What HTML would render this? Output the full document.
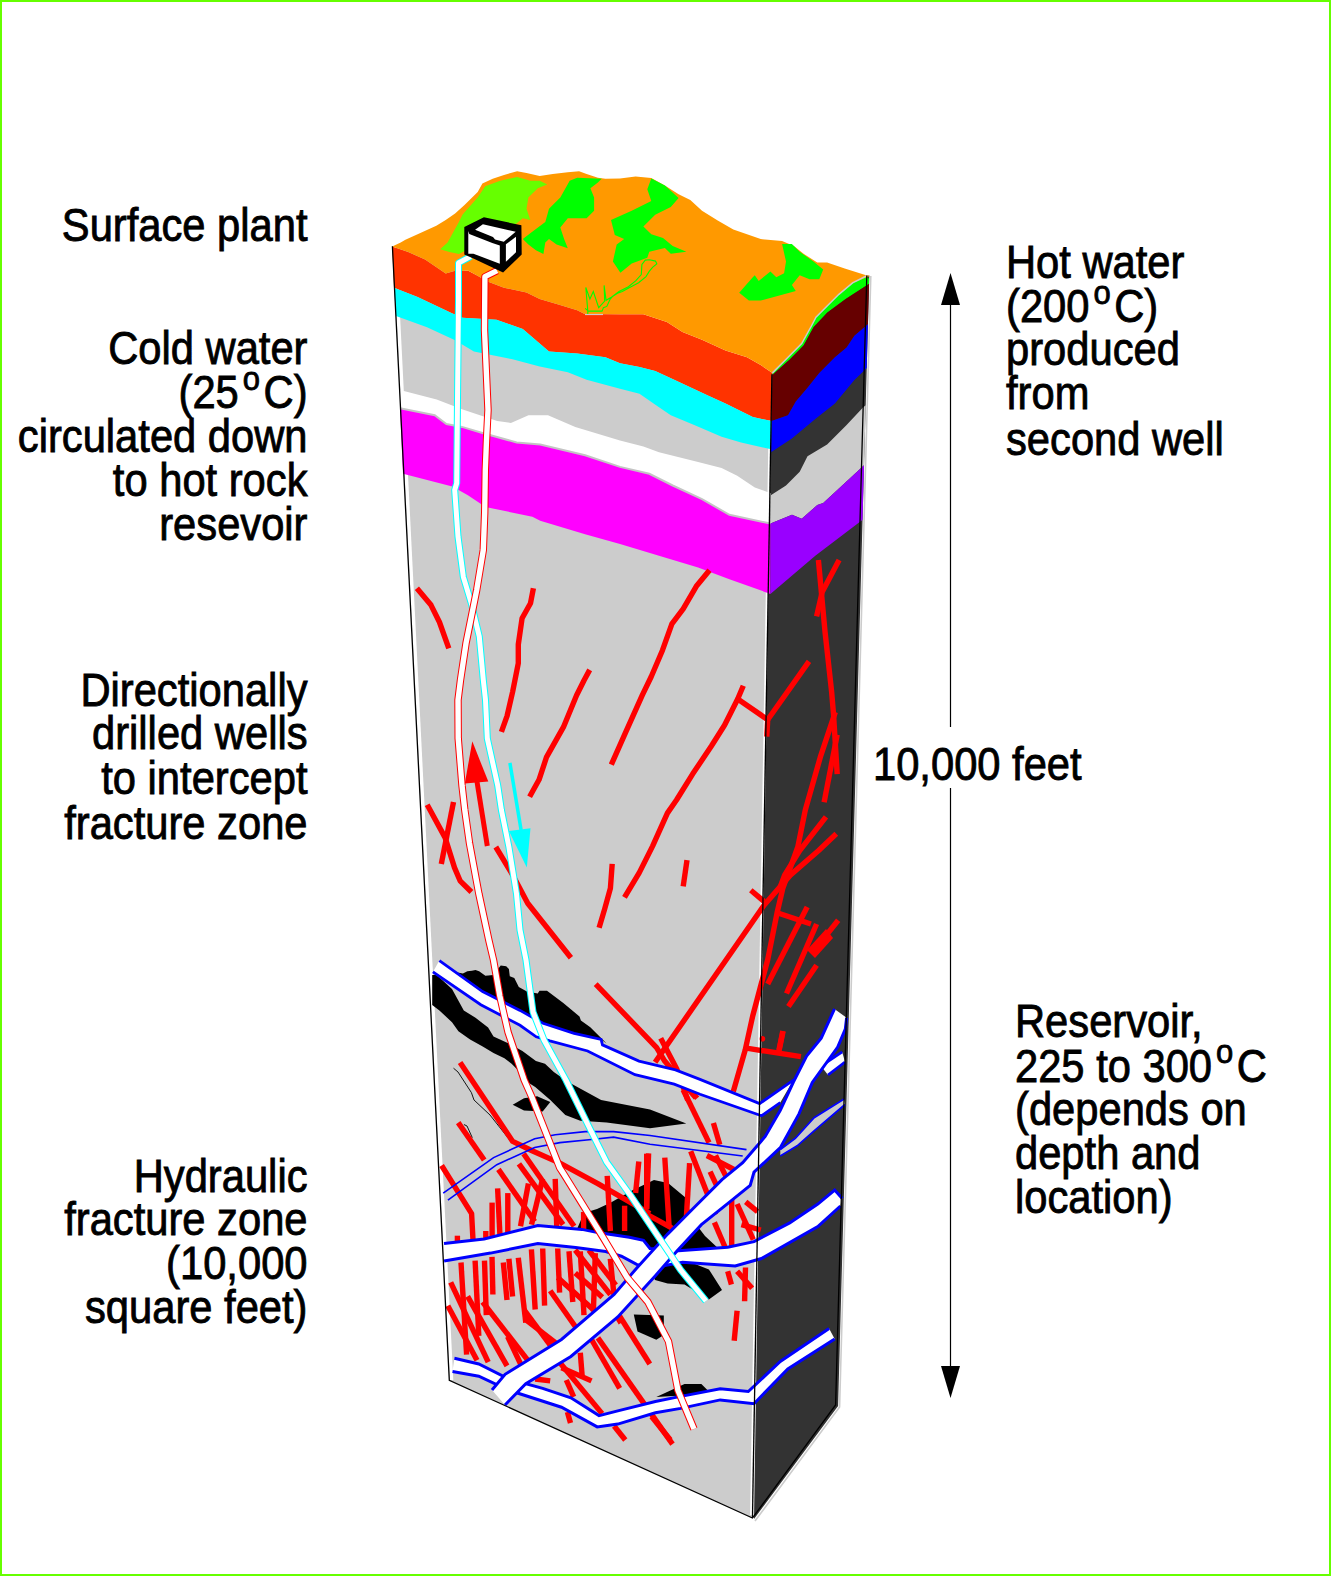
<!DOCTYPE html>
<html><head><meta charset="utf-8">
<style>
html,body{margin:0;padding:0;background:#fff;}
body{width:1331px;height:1576px;overflow:hidden;position:relative;}
svg{position:absolute;left:0;top:0;}
.t{font-family:"Liberation Sans",sans-serif;font-size:41.7px;fill:#000;stroke:#000;stroke-width:0.8;}
</style></head>
<body>
<svg width="1331" height="1576" viewBox="0 0 1331 1576">
<rect x="1" y="1" width="1329" height="1574" fill="#fff" stroke="#66ff00" stroke-width="2"/>

<!-- block faces -->
<g id="block">
<polygon points="392.4,246.3 771.9,374.2 752.5,1518.0 449.3,1380.3" fill="#cccccc"/>
<line x1="394.9" y1="247" x2="451.6" y2="1380" stroke="#fff" stroke-width="3.4"/>
<line x1="770.3" y1="376" x2="750.9" y2="1515" stroke="#fff" stroke-width="1.6"/>
<defs><clipPath id="rclip"><polygon points="771.9,374.2 784.1,361.2 801.7,343.6 811.4,326.0 816.0,317.1 827.4,305.7 838.9,294.3 852.6,282.9 866.3,276.0 869.3,275.4 838.1,1406.0 754.0,1519.0"/></clipPath></defs>
<polygon points="771.9,374.2 784.1,361.2 801.7,343.6 811.4,326.0 816.0,317.1 827.4,305.7 838.9,294.3 852.6,282.9 866.3,276.0 869.3,275.4 838.1,1406.0 754.0,1519.0" fill="#333333"/>
<polygon points="392.2,246.4 408.2,252.0 425.1,259.5 445.7,273.6 455.1,270.8 468.3,270.8 488.9,282.1 504.0,287.7 526.5,292.4 539.7,299.0 558.4,304.6 577.2,310.3 584.7,314.0 620.0,314.3 643.4,314.3 666.9,322.1 682.5,331.9 702.0,339.7 725.5,350.5 747.0,357.3 760.7,365.1 772.4,372.9 771.5,421.0 752.8,417.1 725.5,403.4 707.9,395.6 674.7,380.0 655.2,371.0 639.5,367.1 620.0,363.2 605.4,357.2 577.2,353.5 549.0,351.6 522.8,329.0 496.5,319.7 462.6,317.8 451.4,313.1 417.6,297.1 394.0,287.7" fill="#ff3300" />
<polygon points="394.0,287.7 417.6,297.1 451.4,313.1 462.6,317.8 496.5,319.7 522.8,329.0 549.0,351.6 577.2,353.5 605.4,357.2 620.0,363.2 639.5,367.1 655.2,371.0 674.7,380.0 707.9,395.6 725.5,403.4 752.8,417.1 771.5,421.0 771.0,449.3 741.1,442.5 721.6,436.7 694.2,424.9 670.8,415.2 659.0,407.3 639.5,393.7 620.0,388.8 586.6,379.8 567.8,372.2 539.7,366.6 511.5,359.1 473.9,351.6 455.1,340.3 427.0,327.2 396.0,315.9" fill="#00ffff" />
<polygon points="399.0,389.8 436.7,399.5 462.0,409.3 497.2,421.0 510.9,423.0 528.5,415.2 548.0,415.2 575.3,426.9 620.0,440.6 643.4,446.4 659.0,452.3 698.1,462.0 721.6,467.9 737.2,475.7 754.8,487.4 770.8,493.3 770.5,523.6 729.4,514.8 702.0,499.2 672.7,485.5 649.3,473.8 620.0,466.9 585.1,455.2 540.2,444.5 516.7,442.5 481.6,432.7 462.0,426.9 446.4,424.0 434.7,415.2 400.0,408.3" fill="#ffffff" />
<polygon points="400.0,408.3 434.7,415.2 446.4,424.0 462.0,426.9 481.6,432.7 516.7,442.5 540.2,444.5 585.1,455.2 620.0,466.9 649.3,473.8 672.7,485.5 702.0,499.2 729.4,514.8 770.5,523.6 770.4,593.9 729.4,579.3 698.1,567.5 659.0,555.8 620.0,544.1 585.1,534.3 540.2,520.7 532.4,516.7 485.5,507.0 467.9,495.3 452.3,486.5 403.0,473.8" fill="#ff00ff" />
<polyline points="400.0,408.3 434.7,415.2 446.4,424.0 462.0,426.9 481.6,432.7 516.7,442.5 540.2,444.5 585.1,455.2 620.0,466.9 649.3,473.8 672.7,485.5 702.0,499.2 729.4,514.8 770.5,523.6" fill="none" stroke="#c4c4c4" stroke-width="2"/>
<g clip-path="url(#rclip)"><polygon points="772.4,372.9 784.1,361.2 801.7,343.6 811.4,326.0 816.0,317.1 827.4,305.7 838.9,294.3 852.6,282.9 866.3,276.0 872.0,282.0 845.7,298.9 827.4,312.6 813.7,327.0 803.6,345.6 790.0,359.3 772.4,374.9" fill="#00ff00" />
<polygon points="772.4,374.9 790.0,359.3 803.6,345.6 813.7,327.0 827.4,312.6 845.7,298.9 872.0,282.0 873.0,320.0 854.4,335.8 846.6,347.5 834.9,357.3 819.3,372.9 807.5,387.8 795.8,401.5 788.0,415.2 771.5,421.0" fill="#660000" />
<polygon points="771.5,421.0 788.0,415.2 795.8,401.5 807.5,387.8 819.3,372.9 834.9,357.3 846.6,347.5 854.4,335.8 873.0,320.0 873.0,362.0 854.4,380.0 834.9,403.4 815.3,419.1 791.9,438.6 771.0,452.3" fill="#0000ff" />
<polygon points="770.8,495.3 786.0,485.5 799.7,471.8 807.5,456.2 827.1,444.5 846.6,424.9 863.2,407.3 873.0,400.0 873.0,457.0 823.2,503.1 817.3,505.0 801.7,518.7 792.0,514.8 770.5,523.6" fill="#cccccc" />
<polygon points="770.5,523.6 792.0,514.8 801.7,518.7 817.3,505.0 823.2,503.1 873.0,457.0 873.0,512.0 815.3,555.8 770.4,593.9" fill="#9900ff" />
</g><polygon points="392.2,246.4 400.7,242.6 405.4,239.8 417.6,234.2 436.3,225.7 445.7,220.1 455.1,213.5 464.5,205.1 477.7,191.9 482.4,183.5 492.7,178.8 504.0,175.0 517.1,171.3 526.5,173.1 539.7,176.0 552.8,174.1 567.8,172.2 579.1,171.3 586.6,174.1 597.9,177.8 605.4,178.8 620.0,178.6 635.6,176.6 651.3,178.0 664.9,185.4 678.6,194.2 690.3,200.0 702.0,210.8 717.7,220.6 733.3,229.4 760.7,239.1 782.1,241.1 793.9,246.0 803.6,253.8 817.3,262.6 827.1,262.6 844.7,268.4 866.1,275.3 870.0,276.0 852.6,282.9 838.9,294.3 827.4,305.7 816.0,317.1 811.4,326.0 801.7,343.6 784.1,361.2 772.4,372.9 760.7,365.1 747.0,357.3 725.5,350.5 702.0,339.7 682.5,331.9 666.9,322.1 643.4,314.3 620.0,314.3 584.7,314.0 577.2,310.3 558.4,304.6 539.7,299.0 526.5,292.4 504.0,287.7 488.9,282.1 468.3,270.8 455.1,270.8 445.7,273.6 425.1,259.5 408.2,252.0 392.2,246.4" fill="#ff9900"/>
<polyline points="772.4,372.9 784.1,361.2 801.7,343.6 811.4,326.0 816.0,317.1 827.4,305.7 838.9,294.3 852.6,282.9 866.3,276.0" fill="none" stroke="#cccccc" stroke-width="1.5"/>
<polygon points="440.1,249.2 447.6,242.6 458.9,222.0 462.6,214.5 477.7,197.6 485.2,186.3 500.2,180.7 517.1,176.9 530.3,180.7 539.7,180.7 547.2,184.4 537.8,188.2 528.4,197.6 526.5,208.8 530.3,220.1 522.8,218.2 511.5,227.6 502.1,238.9 492.7,242.6 481.4,250.2 470.2,248.3 458.9,253.9 449.5,252.0" fill="#66ff00"/>
<polygon points="522.8,238.9 530.3,233.3 545.3,222.0 549.0,208.8 560.3,197.6 569.7,180.7 577.2,177.8 601.6,178.8 597.9,182.5 590.4,188.2 594.1,197.6 594.1,210.7 586.6,218.2 567.8,218.2 560.3,227.6 564.1,238.9 567.8,248.3 556.6,244.5 549.0,238.9 545.3,242.6 543.4,253.9 535.9,250.2 528.4,244.5" fill="#00ff00"/>
<polygon points="611.0,220.1 631.7,210.8 651.3,201.0 647.3,189.3 651.3,178.6 664.9,185.4 678.6,198.1 670.8,206.9 655.2,214.7 643.4,226.4 651.3,234.2 663.0,238.1 672.7,246.0 686.4,251.8 670.8,253.8 664.9,247.9 649.3,251.8 647.3,257.7 631.7,263.5 620.4,272.7 612.9,261.4 616.7,244.5 624.2,238.9 614.8,235.1" fill="#00ff00"/>
<polygon points="739.2,292.8 752.8,277.2 754.8,275.3 758.7,281.1 770.4,271.4 776.3,277.2 784.1,273.3 786.0,261.6 782.1,244.0 791.9,244.0 799.7,251.8 813.4,261.6 823.2,269.4 819.3,279.2 809.5,279.2 799.7,275.3 791.9,285.0 795.8,290.9 782.1,294.8 760.7,300.6 748.9,300.6" fill="#00ff00"/>
<polyline points="463.9,1124.5 467.0,1126.0 472.3,1137.7" fill="none" stroke="#000" stroke-width="0.9"/>
<polyline points="453.5,1068.2 458.0,1072.0 471.4,1092.6 474.0,1100.0 490.0,1115.0 510.8,1141.4" fill="none" stroke="#000" stroke-width="0.9"/>
<line x1="585" y1="314.5" x2="603" y2="314.5" stroke="#cccccc" stroke-width="1.2"/>
<polyline points="585.1,308.4 588.5,311.1 602.0,311.1 603.4,307.7 606.8,306.4 610.2,299.0 612.9,296.2 618.3,292.9 622.3,291.5 632.5,286.1 638.6,282.7 646.0,276.6 649.4,271.2 652.8,267.2 656.8,263.8 655.5,261.1 649.4,259.7 645.3,260.1 641.9,264.5 641.3,274.6 635.9,280.7 628.4,286.8 619.0,291.5 610.8,297.6 606.1,300.3 604.1,285.4 604.7,301.0 598.7,307.7 593.3,291.5 589.9,299.0 585.8,287.5 587.8,311.1 587.8,314.0" fill="none" stroke="#00ff00" stroke-width="1.1"/>
<polygon points="455.0,972.0 462.9,973.5 467.4,971.3 471.9,970.8 475.5,969.9 479.1,971.3 485.4,975.8 493.5,974.9 500.7,965.4 506.2,966.3 508.9,969.0 509.8,976.2 514.3,978.0 518.8,987.0 526.9,991.6 537.7,993.4 539.5,990.7 547.0,990.8 563.3,1003.0 579.5,1016.5 580.9,1020.6 590.3,1027.3 606.6,1043.6 601.1,1039.5 574.1,1033.4 545.0,1024.9 520.0,1010.4 482.6,991.6" fill="#000"/>
<polygon points="432.2,974.9 436.7,974.9 452.0,988.9 463.8,1010.5 475.5,1017.7 488.1,1027.6 493.5,1036.6 509.8,1043.9 522.4,1051.1 535.9,1061.0 545.0,1063.7 553.8,1072.0 567.3,1081.4 601.1,1100.0 650.0,1109.5 686.3,1123.5 650.0,1128.3 606.6,1122.6 580.3,1120.8 565.3,1115.1 550.3,1100.1 535.2,1087.0 524.2,1080.0 518.8,1070.9 511.6,1063.7 504.4,1058.3 493.5,1052.9 482.7,1046.6 470.1,1039.4 458.4,1031.2 452.0,1022.2 439.4,1010.5 432.2,1005.1" fill="#000"/>
<polygon points="512.7,1104.8 524.0,1098.2 537.1,1096.3 550.3,1102.0 542.7,1111.4 524.0,1110.4" fill="#000"/>
<polygon points="576.6,1230.0 584.0,1213.0 597.0,1209.0 610.0,1203.0 633.0,1190.0 654.0,1180.0 668.0,1183.0 686.0,1198.0 692.0,1219.0 705.0,1236.0 720.0,1250.0 650.0,1250.0 600.0,1240.0" fill="#000"/>
<polygon points="650.0,1268.0 690.0,1262.0 708.9,1269.4 722.0,1290.0 708.9,1299.4 684.5,1284.4 667.6,1283.5 655.0,1280.0" fill="#000"/>
<polygon points="633.8,1314.5 663.8,1315.4 663.8,1335.1 656.3,1339.8 637.5,1331.4" fill="#000"/>
<polygon points="656.3,1397.1 684.5,1384.0 701.4,1384.0 708.9,1391.5 690.0,1395.0" fill="#000"/>
<polyline points="416.9,588.2 431.0,605.1 439.4,622.0 448.8,648.3" fill="none" stroke="#ff0000" stroke-width="5.4" stroke-linejoin="round" stroke-linecap="butt"/>
<polyline points="533.4,588.2 530.5,603.2 522.1,618.2 518.3,644.5 518.3,663.3 512.7,691.5 507.1,715.9 501.4,731.9" fill="none" stroke="#ff0000" stroke-width="5.4" stroke-linejoin="round" stroke-linecap="butt"/>
<polyline points="589.7,669.9 584.1,680.2 576.6,695.2 563.4,727.2 546.5,757.2 539.0,779.8 529.6,796.7" fill="none" stroke="#ff0000" stroke-width="5.4" stroke-linejoin="round" stroke-linecap="butt"/>
<polyline points="709.5,570.3 696.3,586.3 683.2,608.8 671.9,623.9 662.5,650.2 651.3,676.5 642.3,695.2 625.4,732.8 611.3,764.7" fill="none" stroke="#ff0000" stroke-width="5.4" stroke-linejoin="round" stroke-linecap="butt"/>
<polyline points="743.3,685.8 737.7,699.0 724.5,725.3 711.4,746.0 692.6,774.1 676.5,800.0 667.4,813.1 652.6,846.1 639.3,872.6 624.5,897.4" fill="none" stroke="#ff0000" stroke-width="5.4" stroke-linejoin="round" stroke-linecap="butt"/>
<polyline points="737.7,699.0 767.7,719.7 809.0,661.4" fill="none" stroke="#ff0000" stroke-width="5.4" stroke-linejoin="round" stroke-linecap="butt"/>
<polyline points="767.7,719.7 766.8,736.6" fill="none" stroke="#ff0000" stroke-width="5.4" stroke-linejoin="round" stroke-linecap="butt"/>
<polyline points="687.0,860.1 683.2,886.4" fill="none" stroke="#ff0000" stroke-width="5.4" stroke-linejoin="round" stroke-linecap="butt"/>
<polyline points="427.2,804.7 445.1,837.6 454.5,867.6 460.1,880.8 471.4,892.0" fill="none" stroke="#ff0000" stroke-width="5.4" stroke-linejoin="round" stroke-linecap="butt"/>
<polyline points="453.5,801.9 441.3,863.9" fill="none" stroke="#ff0000" stroke-width="5.4" stroke-linejoin="round" stroke-linecap="butt"/>
<polyline points="495.8,847.0 512.7,875.1 527.7,903.3 570.9,957.8" fill="none" stroke="#ff0000" stroke-width="5.4" stroke-linejoin="round" stroke-linecap="butt"/>
<polyline points="612.2,863.9 610.4,888.3 604.7,908.9 599.1,927.7" fill="none" stroke="#ff0000" stroke-width="5.4" stroke-linejoin="round" stroke-linecap="butt"/>
<polyline points="595.7,984.1 656.6,1047.6 664.7,1061.1 695.8,1097.7" fill="none" stroke="#ff0000" stroke-width="5.4" stroke-linejoin="round" stroke-linecap="butt"/>
<polyline points="836.3,833.8 818.4,850.7 790.3,875.1 764.0,905.2 655.1,1062.2" fill="none" stroke="#ff0000" stroke-width="5.4" stroke-linejoin="round" stroke-linecap="butt"/>
<polyline points="750.8,890.2 764.0,901.4" fill="none" stroke="#ff0000" stroke-width="5.4" stroke-linejoin="round" stroke-linecap="butt"/>
<polyline points="660.7,1038.2 676.9,1069.3 683.6,1088.2 687.7,1100.0" fill="none" stroke="#ff0000" stroke-width="5.4" stroke-linejoin="round" stroke-linecap="butt"/>
<polyline points="818.4,560.0 825.0,631.4 831.6,691.5 833.5,714.0 837.2,774.1" fill="none" stroke="#ff0000" stroke-width="5.4" stroke-linejoin="round" stroke-linecap="butt"/>
<polyline points="839.1,560.0 822.2,591.9 816.6,616.3" fill="none" stroke="#ff0000" stroke-width="5.4" stroke-linejoin="round" stroke-linecap="butt"/>
<polyline points="835.3,712.1 820.3,757.2 805.3,810.0 797.8,847.0 782.8,888.3 777.1,912.7 767.7,959.7 760.2,987.8 752.7,1016.0 745.2,1050.0 733.3,1091.4" fill="none" stroke="#ff0000" stroke-width="5.4" stroke-linejoin="round" stroke-linecap="butt"/>
<polyline points="837.2,734.7 824.1,802.3" fill="none" stroke="#ff0000" stroke-width="5.4" stroke-linejoin="round" stroke-linecap="butt"/>
<polyline points="826.0,816.9 799.7,850.7 784.6,875.1 779.0,890.2" fill="none" stroke="#ff0000" stroke-width="5.4" stroke-linejoin="round" stroke-linecap="butt"/>
<polyline points="807.2,907.1 767.7,984.1" fill="none" stroke="#ff0000" stroke-width="5.4" stroke-linejoin="round" stroke-linecap="butt"/>
<polyline points="777.1,912.7 810.9,924.0" fill="none" stroke="#ff0000" stroke-width="5.4" stroke-linejoin="round" stroke-linecap="butt"/>
<polyline points="816.6,924.0 786.5,993.5" fill="none" stroke="#ff0000" stroke-width="5.4" stroke-linejoin="round" stroke-linecap="butt"/>
<polyline points="838.2,920.2 812.8,952.1" fill="none" stroke="#ff0000" stroke-width="5.4" stroke-linejoin="round" stroke-linecap="butt"/>
<polyline points="816.6,965.3 788.4,1006.6" fill="none" stroke="#ff0000" stroke-width="5.4" stroke-linejoin="round" stroke-linecap="butt"/>
<polyline points="782.8,1031.0 779.0,1050.0" fill="none" stroke="#ff0000" stroke-width="5.4" stroke-linejoin="round" stroke-linecap="butt"/>
<polyline points="746.5,1048.2 800.9,1056.6" fill="none" stroke="#ff0000" stroke-width="5.4" stroke-linejoin="round" stroke-linecap="butt"/>
<polyline points="783.1,1031.3 778.4,1053.8" fill="none" stroke="#ff0000" stroke-width="5.4" stroke-linejoin="round" stroke-linecap="butt"/>
<polyline points="460.1,1062.5 512.7,1141.4 531.5,1150.5 559.9,1163.1 597.8,1183.6 650.0,1213.6" fill="none" stroke="#ff0000" stroke-width="5.4" stroke-linejoin="round" stroke-linecap="butt"/>
<polyline points="458.2,1122.6 484.2,1160.0" fill="none" stroke="#ff0000" stroke-width="5.4" stroke-linejoin="round" stroke-linecap="butt"/>
<polyline points="441.6,1165.5 471.6,1213.6 473.1,1242.0" fill="none" stroke="#ff0000" stroke-width="5.4" stroke-linejoin="round" stroke-linecap="butt"/>
<polyline points="498.4,1169.4 534.7,1221.5" fill="none" stroke="#ff0000" stroke-width="5.4" stroke-linejoin="round" stroke-linecap="butt"/>
<polyline points="518.9,1163.9 563.1,1224.7" fill="none" stroke="#ff0000" stroke-width="5.4" stroke-linejoin="round" stroke-linecap="butt"/>
<polyline points="523.6,1153.7 574.1,1226.2" fill="none" stroke="#ff0000" stroke-width="5.4" stroke-linejoin="round" stroke-linecap="butt"/>
<polyline points="457.4,1235.7 457.4,1242.0" fill="none" stroke="#ff0000" stroke-width="5.4" stroke-linejoin="round" stroke-linecap="butt"/>
<polyline points="485.8,1231.0 485.8,1240.0" fill="none" stroke="#ff0000" stroke-width="5.4" stroke-linejoin="round" stroke-linecap="butt"/>
<polyline points="492.1,1202.6 492.1,1238.0" fill="none" stroke="#ff0000" stroke-width="5.4" stroke-linejoin="round" stroke-linecap="butt"/>
<polyline points="497.6,1188.4 500.0,1236.0" fill="none" stroke="#ff0000" stroke-width="5.4" stroke-linejoin="round" stroke-linecap="butt"/>
<polyline points="507.8,1193.1 507.8,1233.0" fill="none" stroke="#ff0000" stroke-width="5.4" stroke-linejoin="round" stroke-linecap="butt"/>
<polyline points="528.4,1183.6 520.5,1226.2" fill="none" stroke="#ff0000" stroke-width="5.4" stroke-linejoin="round" stroke-linecap="butt"/>
<polyline points="542.6,1178.9 531.5,1224.7" fill="none" stroke="#ff0000" stroke-width="5.4" stroke-linejoin="round" stroke-linecap="butt"/>
<polyline points="555.2,1178.9 556.8,1227.8" fill="none" stroke="#ff0000" stroke-width="5.4" stroke-linejoin="round" stroke-linecap="butt"/>
<polyline points="583.6,1212.0 583.6,1229.4" fill="none" stroke="#ff0000" stroke-width="5.4" stroke-linejoin="round" stroke-linecap="butt"/>
<polyline points="607.2,1175.8 610.4,1231.0" fill="none" stroke="#ff0000" stroke-width="5.4" stroke-linejoin="round" stroke-linecap="butt"/>
<polyline points="638.8,1161.6 635.6,1193.1" fill="none" stroke="#ff0000" stroke-width="5.4" stroke-linejoin="round" stroke-linecap="butt"/>
<polyline points="646.7,1153.7 646.7,1208.9" fill="none" stroke="#ff0000" stroke-width="5.4" stroke-linejoin="round" stroke-linecap="butt"/>
<polyline points="624.6,1205.7 624.6,1231.0" fill="none" stroke="#ff0000" stroke-width="5.4" stroke-linejoin="round" stroke-linecap="butt"/>
<polyline points="683.1,1089.7 709.0,1142.6" fill="none" stroke="#ff0000" stroke-width="5.4" stroke-linejoin="round" stroke-linecap="butt"/>
<polyline points="690.7,1090.8 697.2,1098.3" fill="none" stroke="#ff0000" stroke-width="5.4" stroke-linejoin="round" stroke-linecap="butt"/>
<polyline points="713.4,1123.1 719.8,1144.7" fill="none" stroke="#ff0000" stroke-width="5.4" stroke-linejoin="round" stroke-linecap="butt"/>
<polyline points="690.7,1151.2 715.5,1214.8" fill="none" stroke="#ff0000" stroke-width="5.4" stroke-linejoin="round" stroke-linecap="butt"/>
<polyline points="706.9,1155.5 733.9,1169.5" fill="none" stroke="#ff0000" stroke-width="5.4" stroke-linejoin="round" stroke-linecap="butt"/>
<polyline points="715.5,1155.5 726.3,1177.1" fill="none" stroke="#ff0000" stroke-width="5.4" stroke-linejoin="round" stroke-linecap="butt"/>
<polyline points="710.1,1171.7 717.7,1187.9" fill="none" stroke="#ff0000" stroke-width="5.4" stroke-linejoin="round" stroke-linecap="butt"/>
<polyline points="648.6,1153.4 646.5,1209.4" fill="none" stroke="#ff0000" stroke-width="5.4" stroke-linejoin="round" stroke-linecap="butt"/>
<polyline points="664.8,1157.7 669.1,1226.7" fill="none" stroke="#ff0000" stroke-width="5.4" stroke-linejoin="round" stroke-linecap="butt"/>
<polyline points="689.6,1163.1 686.4,1217.0" fill="none" stroke="#ff0000" stroke-width="5.4" stroke-linejoin="round" stroke-linecap="butt"/>
<polyline points="640.0,1210.5 673.4,1228.9" fill="none" stroke="#ff0000" stroke-width="5.4" stroke-linejoin="round" stroke-linecap="butt"/>
<polyline points="731.7,1198.7 731.7,1250.0" fill="none" stroke="#ff0000" stroke-width="5.4" stroke-linejoin="round" stroke-linecap="butt"/>
<polyline points="737.1,1204.0 753.3,1239.7" fill="none" stroke="#ff0000" stroke-width="5.4" stroke-linejoin="round" stroke-linecap="butt"/>
<polyline points="745.7,1201.9 757.6,1211.6" fill="none" stroke="#ff0000" stroke-width="5.4" stroke-linejoin="round" stroke-linecap="butt"/>
<polyline points="741.4,1224.6 760.8,1230.0" fill="none" stroke="#ff0000" stroke-width="5.4" stroke-linejoin="round" stroke-linecap="butt"/>
<polyline points="714.4,1222.4 726.3,1250.0" fill="none" stroke="#ff0000" stroke-width="5.4" stroke-linejoin="round" stroke-linecap="butt"/>
<polyline points="461.0,1262.5 466.6,1354.6" fill="none" stroke="#ff0000" stroke-width="5.4" stroke-linejoin="round" stroke-linecap="butt"/>
<polyline points="475.1,1260.7 478.8,1335.8" fill="none" stroke="#ff0000" stroke-width="5.4" stroke-linejoin="round" stroke-linecap="butt"/>
<polyline points="484.5,1260.7 486.3,1315.1" fill="none" stroke="#ff0000" stroke-width="5.4" stroke-linejoin="round" stroke-linecap="butt"/>
<polyline points="492.0,1256.9 492.9,1294.5" fill="none" stroke="#ff0000" stroke-width="5.4" stroke-linejoin="round" stroke-linecap="butt"/>
<polyline points="503.3,1262.5 507.0,1300.1" fill="none" stroke="#ff0000" stroke-width="5.4" stroke-linejoin="round" stroke-linecap="butt"/>
<polyline points="508.9,1258.8 512.6,1296.4" fill="none" stroke="#ff0000" stroke-width="5.4" stroke-linejoin="round" stroke-linecap="butt"/>
<polyline points="518.3,1257.8 525.8,1322.6" fill="none" stroke="#ff0000" stroke-width="5.4" stroke-linejoin="round" stroke-linecap="butt"/>
<polyline points="531.4,1249.4 535.2,1309.5" fill="none" stroke="#ff0000" stroke-width="5.4" stroke-linejoin="round" stroke-linecap="butt"/>
<polyline points="542.7,1248.5 544.6,1305.7" fill="none" stroke="#ff0000" stroke-width="5.4" stroke-linejoin="round" stroke-linecap="butt"/>
<polyline points="557.7,1248.5 559.6,1292.6" fill="none" stroke="#ff0000" stroke-width="5.4" stroke-linejoin="round" stroke-linecap="butt"/>
<polyline points="569.0,1251.3 572.8,1302.0" fill="none" stroke="#ff0000" stroke-width="5.4" stroke-linejoin="round" stroke-linecap="butt"/>
<polyline points="580.3,1251.3 584.0,1315.1" fill="none" stroke="#ff0000" stroke-width="5.4" stroke-linejoin="round" stroke-linecap="butt"/>
<polyline points="595.3,1253.1 593.4,1311.4" fill="none" stroke="#ff0000" stroke-width="5.4" stroke-linejoin="round" stroke-linecap="butt"/>
<polyline points="610.3,1258.8 614.1,1296.4" fill="none" stroke="#ff0000" stroke-width="5.4" stroke-linejoin="round" stroke-linecap="butt"/>
<polyline points="450.7,1282.3 488.2,1362.1" fill="none" stroke="#ff0000" stroke-width="5.4" stroke-linejoin="round" stroke-linecap="butt"/>
<polyline points="447.8,1305.7 477.0,1360.2" fill="none" stroke="#ff0000" stroke-width="5.4" stroke-linejoin="round" stroke-linecap="butt"/>
<polyline points="467.6,1296.4 507.0,1365.8" fill="none" stroke="#ff0000" stroke-width="5.4" stroke-linejoin="round" stroke-linecap="butt"/>
<polyline points="482.6,1302.0 527.7,1360.2" fill="none" stroke="#ff0000" stroke-width="5.4" stroke-linejoin="round" stroke-linecap="butt"/>
<polyline points="523.9,1309.5 550.2,1345.2" fill="none" stroke="#ff0000" stroke-width="5.4" stroke-linejoin="round" stroke-linecap="butt"/>
<polyline points="550.2,1290.7 576.5,1328.3" fill="none" stroke="#ff0000" stroke-width="5.4" stroke-linejoin="round" stroke-linecap="butt"/>
<polyline points="557.7,1277.6 595.3,1311.4" fill="none" stroke="#ff0000" stroke-width="5.4" stroke-linejoin="round" stroke-linecap="butt"/>
<polyline points="535.2,1379.0 550.2,1380.9" fill="none" stroke="#ff0000" stroke-width="5.4" stroke-linejoin="round" stroke-linecap="butt"/>
<polyline points="575.2,1250.0 610.4,1294.6" fill="none" stroke="#ff0000" stroke-width="5.4" stroke-linejoin="round" stroke-linecap="butt"/>
<polyline points="588.8,1250.0 615.8,1285.2" fill="none" stroke="#ff0000" stroke-width="5.4" stroke-linejoin="round" stroke-linecap="butt"/>
<polyline points="575.2,1273.0 602.3,1297.3" fill="none" stroke="#ff0000" stroke-width="5.4" stroke-linejoin="round" stroke-linecap="butt"/>
<polyline points="526.6,1320.3 556.3,1343.3" fill="none" stroke="#ff0000" stroke-width="5.4" stroke-linejoin="round" stroke-linecap="butt"/>
<polyline points="507.6,1336.6 521.1,1365.0" fill="none" stroke="#ff0000" stroke-width="5.4" stroke-linejoin="round" stroke-linecap="butt"/>
<polyline points="561.5,1367.7 591.5,1380.9" fill="none" stroke="#ff0000" stroke-width="5.4" stroke-linejoin="round" stroke-linecap="butt"/>
<polyline points="556.0,1358.0 602.1,1413.6" fill="none" stroke="#ff0000" stroke-width="5.4" stroke-linejoin="round" stroke-linecap="butt"/>
<polyline points="566.3,1380.0 573.7,1396.8" fill="none" stroke="#ff0000" stroke-width="5.4" stroke-linejoin="round" stroke-linecap="butt"/>
<polyline points="618.0,1318.0 621.0,1323.0" fill="none" stroke="#ff0000" stroke-width="5.4" stroke-linejoin="round" stroke-linecap="butt"/>
<polyline points="580.3,1352.7 582.1,1375.2" fill="none" stroke="#ff0000" stroke-width="5.4" stroke-linejoin="round" stroke-linecap="butt"/>
<polyline points="591.5,1339.5 619.7,1388.4" fill="none" stroke="#ff0000" stroke-width="5.4" stroke-linejoin="round" stroke-linecap="butt"/>
<polyline points="617.8,1313.3 649.8,1364.0" fill="none" stroke="#ff0000" stroke-width="5.4" stroke-linejoin="round" stroke-linecap="butt"/>
<polyline points="597.9,1337.9 672.5,1444.1" fill="none" stroke="#ff0000" stroke-width="5.4" stroke-linejoin="round" stroke-linecap="butt"/>
<polyline points="567.4,1412.0 570.5,1423.0" fill="none" stroke="#ff0000" stroke-width="5.4" stroke-linejoin="round" stroke-linecap="butt"/>
<polyline points="614.1,1426.0 625.3,1440.0" fill="none" stroke="#ff0000" stroke-width="5.4" stroke-linejoin="round" stroke-linecap="butt"/>
<polyline points="651.6,1416.6 670.4,1440.0" fill="none" stroke="#ff0000" stroke-width="5.4" stroke-linejoin="round" stroke-linecap="butt"/>
<polyline points="727.7,1271.3 731.4,1284.4" fill="none" stroke="#ff0000" stroke-width="5.4" stroke-linejoin="round" stroke-linecap="butt"/>
<polyline points="737.1,1271.3 752.1,1288.2" fill="none" stroke="#ff0000" stroke-width="5.4" stroke-linejoin="round" stroke-linecap="butt"/>
<polyline points="745.5,1267.5 744.6,1301.3" fill="none" stroke="#ff0000" stroke-width="5.4" stroke-linejoin="round" stroke-linecap="butt"/>
<polyline points="737.1,1310.7 734.2,1340.8" fill="none" stroke="#ff0000" stroke-width="5.4" stroke-linejoin="round" stroke-linecap="butt"/>
<polygon points="439.4,960.6 482.6,991.6 520.0,1010.4 543.0,1023.3 574.1,1033.4 601.1,1039.5 602.5,1044.9 639.0,1061.1 675.5,1069.9 700.0,1079.4 759.6,1103.6 793.4,1080.1 780.3,1102.6 761.5,1115.8 700.0,1094.3 674.2,1084.1 635.0,1074.7 587.6,1051.0 549.8,1040.9 536.2,1036.8 520.0,1025.3 480.8,1004.7 432.9,971.9" fill="#fff"/><polyline points="439.4,960.6 482.6,991.6 520.0,1010.4 543.0,1023.3 574.1,1033.4 601.1,1039.5 602.5,1044.9 639.0,1061.1 675.5,1069.9 700.0,1079.4 759.6,1103.6 793.4,1080.1" fill="none" stroke="#0000ff" stroke-width="2.8"/><polyline points="432.9,971.9 480.8,1004.7 520.0,1025.3 536.2,1036.8 549.8,1040.9 587.6,1051.0 635.0,1074.7 674.2,1084.1 700.0,1094.3 761.5,1115.8 780.3,1102.6" fill="none" stroke="#0000ff" stroke-width="2.8"/>
<polygon points="821.0,1066.0 842.2,1051.9 845.0,1062.0 828.0,1075.0" fill="#fff"/><polyline points="821.0,1066.0 842.2,1051.9" fill="none" stroke="#0000ff" stroke-width="2.8"/><polyline points="828.0,1075.0 845.0,1062.0" fill="none" stroke="#0000ff" stroke-width="2.8"/>
<polyline points="443.2,1193.1 493.6,1157.6 534.7,1138.7 555.2,1134.7 585.2,1131.6 613.6,1131.6 650.0,1135.5 746.5,1149.6" fill="none" stroke="#0000ff" stroke-width="1.6"/>
<polyline points="447.9,1200.2 496.8,1164.7 534.7,1147.4 559.9,1142.6 591.5,1139.5 613.6,1137.1 650.0,1144.2 742.7,1156.0" fill="none" stroke="#0000ff" stroke-width="1.6"/>
<polygon points="780.3,1149.6 795.3,1138.3 814.1,1117.7 844.1,1098.9 845.0,1104.5 814.1,1130.8 797.2,1145.8 780.3,1156.0" fill="#cccccc"/>
<polyline points="780.3,1149.6 795.3,1138.3 814.1,1117.7 844.1,1098.9" fill="none" stroke="#0000ff" stroke-width="1.8"/>
<polyline points="780.3,1156.0 797.2,1145.8 814.1,1130.8 845.0,1104.5" fill="none" stroke="#0000ff" stroke-width="1.8"/>
<polygon points="444.0,1243.6 484.2,1238.9 537.8,1225.5 582.0,1229.4 597.8,1232.6 629.3,1237.3 643.5,1240.4 650.0,1248.5 675.1,1251.0 727.7,1247.3 754.0,1241.6 789.7,1222.9 817.8,1204.1 834.7,1190.0 842.2,1198.4 840.4,1206.0 817.8,1226.6 761.5,1258.5 735.2,1266.0 682.6,1262.3 650.0,1268.2 636.6,1264.4 621.4,1256.2 605.7,1251.5 575.7,1247.5 537.8,1243.6 490.5,1253.1 444.1,1261.0" fill="#fff"/><polyline points="444.0,1243.6 484.2,1238.9 537.8,1225.5 582.0,1229.4 597.8,1232.6 629.3,1237.3 643.5,1240.4 650.0,1248.5 675.1,1251.0 727.7,1247.3 754.0,1241.6 789.7,1222.9 817.8,1204.1 834.7,1190.0 842.2,1198.4" fill="none" stroke="#0000ff" stroke-width="3"/><polyline points="444.1,1261.0 490.5,1253.1 537.8,1243.6 575.7,1247.5 605.7,1251.5 621.4,1256.2 636.6,1264.4 650.0,1268.2 682.6,1262.3 735.2,1266.0 761.5,1258.5 817.8,1226.6 840.4,1206.0" fill="none" stroke="#0000ff" stroke-width="3"/>
<polygon points="454.4,1358.3 478.8,1364.0 508.9,1379.0 542.7,1388.4 570.9,1397.8 599.0,1415.6 617.8,1410.9 655.4,1401.5 677.0,1397.1 720.2,1388.7 748.3,1391.5 780.3,1361.4 829.1,1328.6 834.7,1338.9 787.8,1368.9 754.0,1403.7 720.2,1399.9 680.7,1408.4 655.4,1412.8 617.8,1424.1 597.2,1426.9 561.5,1407.2 508.9,1390.3 478.8,1376.2 452.5,1371.5" fill="#fff"/><polyline points="454.4,1358.3 478.8,1364.0 508.9,1379.0 542.7,1388.4 570.9,1397.8 599.0,1415.6 617.8,1410.9 655.4,1401.5 677.0,1397.1 720.2,1388.7 748.3,1391.5 780.3,1361.4 829.1,1328.6" fill="none" stroke="#0000ff" stroke-width="3"/><polyline points="452.5,1371.5 478.8,1376.2 508.9,1390.3 561.5,1407.2 597.2,1426.9 617.8,1424.1 655.4,1412.8 680.7,1408.4 720.2,1399.9 754.0,1403.7 787.8,1368.9 834.7,1338.9" fill="none" stroke="#0000ff" stroke-width="3"/>
<polygon points="492.0,1390.0 505.1,1374.3 561.5,1339.5 614.1,1294.5 636.6,1268.2 667.6,1234.1 693.9,1207.8 722.0,1179.6 742.7,1162.7 765.2,1136.5 780.3,1110.2 793.4,1082.0 806.6,1056.0 821.2,1038.1 834.5,1008.9 846.6,1017.8 845.3,1029.2 837.7,1047.0 812.3,1082.5 799.0,1113.9 780.3,1147.7 754.0,1172.1 750.2,1185.3 729.5,1202.2 701.4,1224.7 677.0,1251.0 655.4,1275.7 617.8,1317.0 570.9,1356.5 525.8,1383.7 505.0,1405.0" fill="#fff"/><polyline points="492.0,1390.0 505.1,1374.3 561.5,1339.5 614.1,1294.5 636.6,1268.2 667.6,1234.1 693.9,1207.8 722.0,1179.6 742.7,1162.7 765.2,1136.5 780.3,1110.2 793.4,1082.0 806.6,1056.0 821.2,1038.1 834.5,1008.9" fill="none" stroke="#0000ff" stroke-width="3"/><polyline points="505.0,1405.0 525.8,1383.7 570.9,1356.5 617.8,1317.0 655.4,1275.7 677.0,1251.0 701.4,1224.7 729.5,1202.2 750.2,1185.3 754.0,1172.1 780.3,1147.7 799.0,1113.9 812.3,1082.5 837.7,1047.0 845.3,1029.2 846.6,1017.8" fill="none" stroke="#0000ff" stroke-width="3"/>
<polyline points="470.7,256.4 458.5,263.0 458.5,300.0 457.5,400.0 456.7,483.3 454.7,490.0 458.0,536.7 463.3,576.7 471.3,603.3 479.3,636.7 483.3,680.0 485.5,700.0 487.3,738.4 497.7,785.4 501.4,810.0 508.9,847.0 516.5,893.9 520.0,930.0 526.0,960.0 533.0,1012.0 544.0,1040.0 566.0,1080.1 587.8,1124.5 606.6,1162.1 630.0,1194.7 680.7,1270.0 706.0,1301.0" fill="none" stroke="#00ffff" stroke-width="7" stroke-linejoin="round"/>
<polyline points="470.7,256.4 458.5,263.0 458.5,300.0 457.5,400.0 456.7,483.3 454.7,490.0 458.0,536.7 463.3,576.7 471.3,603.3 479.3,636.7 483.3,680.0 485.5,700.0 487.3,738.4 497.7,785.4 501.4,810.0 508.9,847.0 516.5,893.9 520.0,930.0 526.0,960.0 533.0,1012.0 544.0,1040.0 566.0,1080.1 587.8,1124.5 606.6,1162.1 630.0,1194.7 680.7,1270.0 706.0,1301.0" fill="none" stroke="#fff" stroke-width="5" stroke-linejoin="round"/>
<polyline points="497.1,270.6 484.9,276.7 484.5,330.0 488.0,410.0 486.5,440.0 485.3,470.0 484.7,512.7 483.3,550.0 476.7,590.0 472.7,610.0 466.0,643.3 460.5,680.0 458.0,700.0 458.2,738.4 462.0,785.4 464.8,810.0 469.5,843.2 478.9,893.9 489.0,940.9 493.5,960.0 499.8,996.0 508.0,1032.0 524.2,1080.0 531.5,1096.3 559.7,1167.7 563.4,1173.4 602.9,1237.2 627.2,1277.6 647.9,1302.0 668.5,1341.4 677.9,1390.3 694.0,1429.0" fill="none" stroke="#ff0000" stroke-width="7.4" stroke-linejoin="round"/>
<polyline points="497.1,270.6 484.9,276.7 484.5,330.0 488.0,410.0 486.5,440.0 485.3,470.0 484.7,512.7 483.3,550.0 476.7,590.0 472.7,610.0 466.0,643.3 460.5,680.0 458.0,700.0 458.2,738.4 462.0,785.4 464.8,810.0 469.5,843.2 478.9,893.9 489.0,940.9 493.5,960.0 499.8,996.0 508.0,1032.0 524.2,1080.0 531.5,1096.3 559.7,1167.7 563.4,1173.4 602.9,1237.2 627.2,1277.6 647.9,1302.0 668.5,1341.4 677.9,1390.3 694.0,1429.0" fill="none" stroke="#fff" stroke-width="5.4" stroke-linejoin="round"/>
<polyline points="477.0,781.6 487.3,846.0" fill="none" stroke="#ff0000" stroke-width="5"/>
<polygon points="472.3,741.3 464.8,783.5 488.3,781.6" fill="#ff0000"/>
<polyline points="509.9,762.9 521.1,830.0" fill="none" stroke="#00ffff" stroke-width="3.5"/>
<polygon points="526.8,867.6 508.9,831.0 530.5,828.2" fill="#00ffff"/>
<polygon points="826.0,929.0 833.0,938.0 815.0,958.0 807.0,950.0" fill="#ff0000"/>
<circle cx="762.4" cy="1038.8" r="2.8" fill="#ff0000"/>
<polyline points="870.8,276.0 839.6,1407.0 755.0,1521.0" fill="none" stroke="#cccccc" stroke-width="1.6"/>
<polyline points="392.4,246.3 449.3,1380.3 752.5,1518.0 835.6,1405.0 866.8,275.4" fill="none" stroke="#000" stroke-width="1.3"/>
<line x1="771.9" y1="374.2" x2="752.5" y2="1518" stroke="#000" stroke-width="1.3"/>
<polygon points="464.3,227.0 483.9,217.2 521.4,225.3 521.7,254.4 503.1,272.6 473.4,258.4 464.3,254.4" fill="#000"/>
<polygon points="475.1,229.7 482.9,224.3 515.7,231.7 503.8,241.8 495.0,239.5 493.0,237.0" fill="#fff"/>
<polygon points="468.3,231.0 469.3,234.1 492.3,242.9 499.8,245.6 499.8,263.8 473.4,253.7 468.3,253.7" fill="#fff"/>
<polygon points="505.9,244.2 516.0,236.8 516.0,252.3 505.9,261.8" fill="#fff"/>

</g>

<!-- arrow -->
<g id="arrow">
<line x1="950.5" y1="300" x2="950.5" y2="727" stroke="#000" stroke-width="1.2"/>
<line x1="950.5" y1="788" x2="950.5" y2="1370" stroke="#000" stroke-width="1.2"/>
<polygon points="950.5,273 941,305 960,305" fill="#000"/>
<polygon points="950.5,1398 941,1366 960,1366" fill="#000"/>
</g>

<!-- texts -->
<g class="t" text-anchor="end">
<text transform="translate(307.5,241) scale(1,1.088)">Surface plant</text>
<text transform="translate(307.5,363.7) scale(1,1.088)">Cold water</text>
<text transform="translate(307.5,408) scale(1,1.088)">(25<tspan font-size="31" dx="4" dy="-17">o</tspan><tspan dx="3.5" dy="17">C)</tspan></text>
<text transform="translate(307.5,451.8) scale(1,1.088)">circulated down</text>
<text transform="translate(307.5,496.4) scale(1,1.088)">to hot rock</text>
<text transform="translate(307.5,540) scale(1,1.088)">resevoir</text>

<text transform="translate(307.5,705.8) scale(1,1.088)">Directionally</text>
<text transform="translate(307.5,749.3) scale(1,1.088)">drilled wells</text>
<text transform="translate(307.5,794) scale(1,1.088)">to intercept</text>
<text transform="translate(307.5,838.6) scale(1,1.088)">fracture zone</text>

<text transform="translate(307.5,1191.9) scale(1,1.088)">Hydraulic</text>
<text transform="translate(307.5,1235.4) scale(1,1.088)">fracture zone</text>
<text transform="translate(307.5,1279.4) scale(1,1.088)">(10,000</text>
<text transform="translate(307.5,1323) scale(1,1.088)">square feet)</text>
</g>
<g class="t">
<text transform="translate(1006,277.9) scale(1,1.088)">Hot water</text>
<text transform="translate(1006,322) scale(1,1.088)">(200<tspan font-size="31" dx="4" dy="-17">o</tspan><tspan dx="3.5" dy="17">C)</tspan></text>
<text transform="translate(1006,365.2) scale(1,1.088)">produced</text>
<text transform="translate(1006,409.4) scale(1,1.088)">from</text>
<text transform="translate(1006,454.5) scale(1,1.088)">second well</text>

<text transform="translate(873,779.6) scale(1,1.088)">10,000 feet</text>

<text transform="translate(1015,1037.3) scale(1,1.088)">Reservoir,</text>
<text transform="translate(1015,1081.5) scale(1,1.088)">225 to 300<tspan font-size="31" dx="4" dy="-17">o</tspan><tspan dx="3.5" dy="17">C</tspan></text>
<text transform="translate(1015,1124.6) scale(1,1.088)">(depends on</text>
<text transform="translate(1015,1168.8) scale(1,1.088)">depth and</text>
<text transform="translate(1015,1213) scale(1,1.088)">location)</text>
</g>
</svg>
</body></html>
